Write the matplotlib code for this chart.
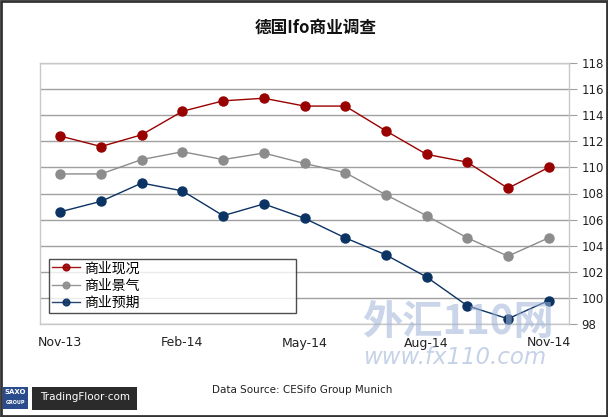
import matplotlib
matplotlib.use("Agg")
import matplotlib.pyplot as plt
from matplotlib.patches import Rectangle

plt.rcParams['font.family'] = ['Noto Sans CJK SC', 'DejaVu Sans']

# monthly Ifo readings, Nov-13 .. Nov-14
months = ["Nov-13", "Dec-13", "Jan-14", "Feb-14", "Mar-14", "Apr-14", "May-14",
          "Jun-14", "Jul-14", "Aug-14", "Sep-14", "Oct-14", "Nov-14"]
current = [112.4, 111.6, 112.5, 114.3, 115.1, 115.3, 114.7,
           114.7, 112.8, 111.0, 110.4, 108.4, 110.0]
climate = [109.5, 109.5, 110.6, 111.2, 110.6, 111.1, 110.3,
           109.6, 107.9, 106.3, 104.6, 103.2, 104.6]
expect = [106.6, 107.4, 108.8, 108.2, 106.3, 107.2, 106.1,
          104.6, 103.3, 101.6, 99.4, 98.4, 99.8]
labels = ["商业现况", "商业景气", "商业预期"]
colors = ["#990000", "#8c8c8c", "#0b3363"]
yticks = list(range(98, 119, 2))
xtick_idx = [0, 3, 6, 9, 12]

W, H = 608, 417
fig = plt.figure(figsize=(W / 100, H / 100), dpi=100)
fig.patch.set_facecolor("white")

# plot box in pixel coords
left, right, top, bottom = 40, 569, 63, 324
ax = fig.add_axes([left / W, 1 - bottom / H, (right - left) / W, (bottom - top) / H])

x = list(range(len(months)))
for series, lab, col in zip([current, climate, expect], labels, colors):
    ax.plot(x, series, color=col, lw=1.0, marker="o", markersize=6.5,
            markerfacecolor=col, markeredgecolor=col, label=lab, zorder=3)

ax.set_xlim(-0.5, 12.5)
ax.set_ylim(98, 118)
ax.set_yticks(yticks)
ax.yaxis.tick_right()
ax.tick_params(axis="y", length=6, color="#a0a0a0", labelsize=8.5, pad=3,
               labelcolor="#222222")
ax.set_yticklabels([str(v) for v in yticks], family="DejaVu Sans")
ax.set_xticks(xtick_idx)
ax.set_xticklabels([months[i] for i in xtick_idx], family="DejaVu Sans")
ax.tick_params(axis="x", length=0, labelsize=9, pad=9, labelcolor="#222222")
ax.grid(axis="y", color="#a0a0a0", lw=1.0)
ax.set_axisbelow(True)
for sp in ax.spines.values():
    sp.set_color("#c8c8c8")
    sp.set_linewidth(1.0)

leg = ax.legend(loc="lower left", bbox_to_anchor=((49 - left) / (right - left), (bottom - 313) / (bottom - top),
                                                   (296 - 49) / (right - left), (313 - 260) / (bottom - top)),
                mode="expand", frameon=True, fancybox=False, fontsize=10,
                handlelength=2.0, handletextpad=0.3, borderpad=0.2,
                labelspacing=0.25, borderaxespad=0, markerscale=0.75)
leg.get_frame().set_edgecolor("#222222")
leg.get_frame().set_linewidth(1.0)
for h in leg.legend_handles:
    h.set_alpha(0.9)

fig.text(316 / W, 1 - 28 / H, "德国Ifo商业调查", ha="center", va="center",
         fontsize=12, fontweight="bold", color="#111111")

# watermark
fig.text(458 / W, 1 - 323 / H, "外汇110网", ha="center", va="center",
         fontsize=29, fontweight="bold", color="#9fb4d8", alpha=0.55)
fig.text(455 / W, 1 - 357 / H, "www.fx110.com", ha="center", va="center",
         fontsize=16.5, color="#9fb4d8", alpha=0.6, style="italic", family="DejaVu Sans")

fig.text(302 / W, 1 - 390 / H, "Data Source: CESifo Group Munich", ha="center",
         va="center", fontsize=7.5, color="#222222", family="DejaVu Sans")

# logo block
fig.patches.append(Rectangle((3 / W, 1 - 409 / H), 25 / W, 22 / H,
                             transform=fig.transFigure, facecolor="#2a4c8c", edgecolor="none"))
fig.text(15.5 / W, 1 - 392 / H, "SAXO", ha="center", va="center", fontsize=5,
         fontweight="bold", color="white", family="DejaVu Sans")
fig.text(15.5 / W, 1 - 403 / H, "GROUP", ha="center", va="center", fontsize=3.5,
         fontweight="bold", color="white", family="DejaVu Sans")
fig.patches.append(Rectangle((32 / W, 1 - 410 / H), 105 / W, 23 / H,
                             transform=fig.transFigure, facecolor="#2b2b2b", edgecolor="none"))
fig.text(85 / W, 1 - 397 / H, "TradingFloor·com", ha="center", va="center",
         fontsize=7.5, color="white", family="DejaVu Sans")

# outer frame
fig.patches.append(Rectangle((0.0015, 0.002), 0.997, 0.996, transform=fig.transFigure,
                             facecolor="none", edgecolor="#333333", lw=2))

fig.savefig("out.png", dpi=100)
